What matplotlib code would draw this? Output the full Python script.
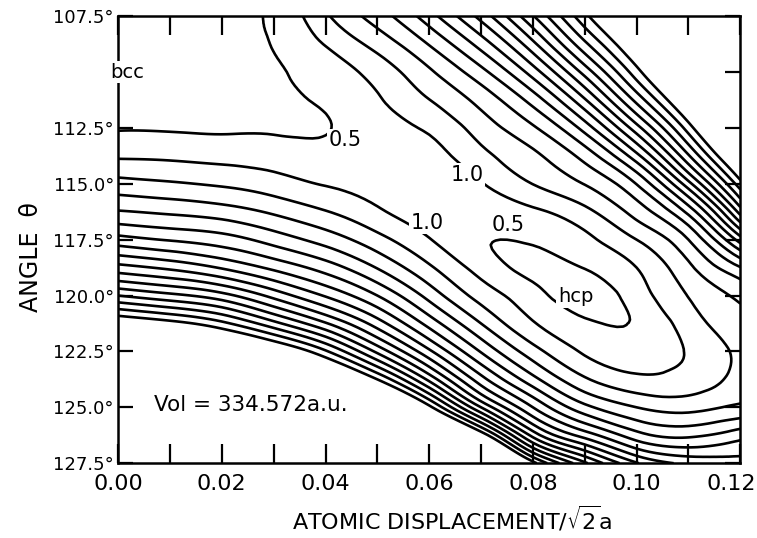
import numpy as np
import matplotlib
matplotlib.use("Agg")
import matplotlib.pyplot as plt
import matplotlib.tri as mtri
from matplotlib.transforms import ScaledTranslation

# ---- data ----
displacement = [0.00, 0.01, 0.02, 0.03, 0.04, 0.05, 0.06, 0.07, 0.08, 0.09, 0.10, 0.11, 0.12]
angle = [107.5, 108.75, 110.0, 111.25, 112.5, 113.75, 115.0, 116.25, 117.5,
         118.75, 120.0, 121.25, 122.5, 123.75, 125.0, 126.25, 127.5]
# energy: rows follow `angle`, columns follow `displacement`
energy = [
    [0.45, 0.42, 0.44, 0.58, 1.42, 2.24, 3.29, 4.68, 6.46, 8.36, 10.3, 13.3, 16.7],
    [0.36, 0.34, 0.40, 0.52, 1.03, 1.68, 2.53, 3.71, 5.36, 7.38, 9.30, 12.0, 15.3],
    [0.32, 0.31, 0.36, 0.45, 0.72, 1.20, 1.92, 2.84, 4.24, 6.19, 8.30, 10.7, 13.9],
    [0.36, 0.35, 0.36, 0.40, 0.58, 0.95, 1.49, 2.17, 3.21, 4.94, 7.16, 9.50, 12.5],
    [0.47, 0.46, 0.44, 0.44, 0.47, 0.80, 1.08, 1.73, 2.43, 3.71, 5.80, 8.25, 11.1],
    [0.93, 0.90, 0.83, 0.76, 0.69, 0.76, 0.82, 1.35, 1.90, 2.69, 4.34, 6.94, 9.70],
    [1.68, 1.56, 1.43, 1.22, 0.97, 0.82, 0.65, 0.97, 1.51, 2.02, 3.02, 5.32, 8.30],
    [2.54, 2.41, 2.24, 1.92, 1.53, 1.08, 0.72, 0.70, 0.91, 1.36, 2.20, 3.66, 6.71],
    [3.70, 3.46, 3.23, 2.79, 2.29, 1.68, 1.03, 0.54, 0.56, 0.88, 1.50, 2.50, 4.75],
    [5.19, 4.89, 4.45, 3.88, 3.27, 2.47, 1.58, 0.80, 0.38, 0.52, 1.00, 1.89, 2.97],
    [7.00, 6.64, 6.19, 5.33, 4.45, 3.50, 2.32, 1.30, 0.68, 0.26, 0.75, 1.52, 2.12],
    [9.06, 8.71, 8.14, 7.17, 6.06, 4.75, 3.31, 2.00, 1.04, 0.59, 0.55, 1.25, 1.82],
    [11.0, 10.7, 10.1, 9.27, 8.08, 6.38, 4.61, 2.96, 1.71, 0.94, 0.75, 1.04, 1.63],
    [13.0, 12.7, 12.1, 11.2, 10.0, 8.50, 6.36, 4.20, 2.67, 1.57, 1.11, 1.20, 1.68],
    [15.0, 14.7, 14.1, 13.2, 12.0, 10.7, 8.66, 6.00, 4.00, 2.65, 2.00, 1.83, 2.10],
    [17.0, 16.6, 16.0, 15.1, 14.0, 12.9, 11.0, 8.90, 5.83, 4.29, 3.20, 2.90, 3.30],
    [19.0, 18.6, 17.9, 17.0, 16.0, 15.0, 13.2, 11.6, 8.70, 6.60, 5.05, 4.40, 4.20],
]
contour_levels = [0.5, 1.0, 1.5, 2.0, 2.5, 3.0, 3.5, 4.0, 4.5, 5.0, 5.5, 6.0, 6.5, 7.0, 7.5, 8.0, 8.5]
x_ticks = [0.00, 0.01, 0.02, 0.03, 0.04, 0.05, 0.06, 0.07, 0.08, 0.09, 0.10, 0.11, 0.12]
x_ticklabels = ["0.00", "", "0.02", "", "0.04", "", "0.06", "", "0.08", "", "0.10", "", "0.12"]
y_ticks = [107.5, 110.0, 112.5, 115.0, 117.5, 120.0, 122.5, 125.0, 127.5]
y_ticklabels = ["107.5°", "", "112.5°", "115.0°", "117.5°", "120.0°", "122.5°", "125.0°", "127.5°"]
contour_labels = [("0.5", 0.0438, 113.05), ("1.0", 0.0673, 114.6),
                  ("1.0", 0.0596, 116.75), ("0.5", 0.0752, 116.85)]
phase_labels = [("bcc", 0.0017, 110.0), ("hcp", 0.0882, 120.05)]
volume_text = "Vol = 334.572a.u."

# ---- figure ----
fig = plt.figure(figsize=(7.57, 5.38), dpi=100)
ax = fig.add_axes([0.156, 0.139, 0.822, 0.831])

X = np.array(displacement)
Y = np.array(angle)
Z = np.array(energy)
xx, yy = np.meshgrid(X, Y)
# isotropic (display-like) units for the triangulation
W, H = 622.0, 447.0
sx = (xx - X.min()) / (X.max() - X.min()) * W
sy = (yy - Y.min()) / (Y.max() - Y.min()) * H
ny, nx = Z.shape
tris = []
for i in range(ny - 1):
    for j in range(nx - 1):
        a = i * nx + j
        b, c = a + 1, a + nx
        d = c + 1
        tris.append([a, b, d])
        tris.append([a, d, c])
tri = mtri.Triangulation(sx.ravel(), sy.ravel(), np.array(tris))
refiner = mtri.UniformTriRefiner(tri)
tri_r, z_r = refiner.refine_field(Z.ravel(), subdiv=3)
tri_data = mtri.Triangulation(X.min() + tri_r.x / W * (X.max() - X.min()),
                              Y.min() + tri_r.y / H * (Y.max() - Y.min()),
                              tri_r.triangles)
ax.tricontour(tri_data, z_r, levels=contour_levels, colors="black", linewidths=1.9)

ax.set_xlim(0.0, 0.12)
ax.set_ylim(127.5, 107.5)
ax.set_xticks(x_ticks)
ax.set_xticklabels(x_ticklabels, fontsize=16)
ax.set_yticks(y_ticks)
ax.set_yticklabels(y_ticklabels, fontsize=13)
ax.tick_params(axis="x", direction="in", length=14, width=1.6, top=True, pad=8)
ax.tick_params(axis="y", direction="in", length=11, width=1.6, right=True, pad=3)
for s in ax.spines.values():
    s.set_linewidth(1.8)
last = ax.get_xticklabels()[-1]
last.set_transform(last.get_transform() + ScaledTranslation(-9 / 100, 0, fig.dpi_scale_trans))

for txt, x, y in contour_labels:
    ax.text(x, y, txt, fontsize=15, ha="center", va="center",
            bbox=dict(facecolor="white", edgecolor="none", pad=1.0), zorder=5)
for txt, x, y in phase_labels:
    ax.text(x, y, txt, fontsize=14, ha="center", va="center",
            bbox=dict(facecolor="white", edgecolor="none", pad=1.0), zorder=5,
            clip_on=False)
ax.text(0.0255, 124.9, volume_text, fontsize=15.5, ha="center", va="center")

ax.set_xlabel(r"ATOMIC DISPLACEMENT/$\sqrt{2}$a", fontsize=16)
ax.xaxis.set_label_coords(0.537, -0.092)
ax.set_ylabel("ANGLE  θ", fontsize=17)
ax.yaxis.set_label_coords(-0.12, 0.46)

fig.savefig("out.png", dpi=100)
